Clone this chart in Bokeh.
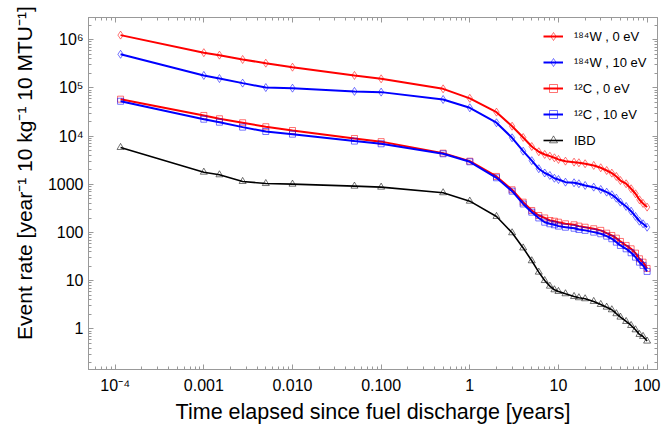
from bokeh.plotting import figure
from bokeh.models import (LogAxis, FixedTicker, CustomJSTickFormatter, Legend,
                          LegendItem, Range1d)
from bokeh.embed import file_html
from bokeh.resources import INLINE

# ---------------- data ----------------
t_years = [1.15e-4, 1e-3, 1.5e-3, 2.74e-3, 5e-3, 0.01, 0.05, 0.1, 0.5, 1, 2, 3, 4, 5, 6, 7,
           8, 9, 10, 12, 15, 17, 20, 25, 30, 35, 40, 45, 50, 58, 66, 74, 82, 90, 100]

w184_0eV = [1.25e6, 5.4e5, 4.8e5, 3.9e5, 3.27e5, 2.7e5, 1.82e5, 1.55e5, 9.6e4, 6.1e4,
            3.15e4, 1.61e4, 9.4e3, 6.1e3, 4.75e3, 4.17e3, 3.85e3, 3.56e3, 3.29e3, 3.03e3,
            2.89e3, 2.81e3, 2.68e3, 2.47e3, 2.21e3, 1.94e3, 1.71e3, 1.46e3, 1.2e3, 1.03e3,
            811, 638, 479, 402, 337]

w184_10eV = [5.0e5, 1.82e5, 1.57e5, 1.26e5, 1.02e5, 9.9e4, 8.5e4, 8.2e4, 5.77e4, 3.88e4,
             1.9e4, 9.26e3, 4.88e3, 3.1e3, 2.11e3, 1.72e3, 1.53e3, 1.34e3, 1.26e3, 1.11e3,
             1.08e3, 1.03e3, 949, 875, 783, 689, 608, 517, 427, 348, 278, 216, 172, 152, 129]

c12_0eV = [5.86e4, 2.69e4, 2.3e4, 1.9e4, 1.57e4, 1.31e4, 8.95e3, 7.7e3, 4.44e3, 3.03e3,
           1.46e3, 772, 427, 287, 226, 201, 178, 172, 164, 152, 145, 136, 129, 120, 111,
           97, 87, 76.5, 65.4, 54, 46, 37.4, 28.6, 24.3, 18]

c12_10eV = [5.3e4, 2.25e4, 1.95e4, 1.54e4, 1.25e4, 1.1e4, 7.9e3, 6.95e3, 4.31e3, 2.94e3,
            1.37e3, 722, 392, 265, 201, 164, 152, 145, 136, 129, 123, 116, 111, 102, 94.4,
            84.2, 74.4, 63.2, 54, 46, 38.1, 30.9, 24.3, 20.8, 15.6]

ibd = [5.83e3, 1.79e3, 1.58e3, 1.15e3, 1.04e3, 1.01e3, 918, 875, 670, 448, 216, 99, 48,
       26, 15.1, 10.1, 7.73, 6.5, 6.0, 5.37, 4.72, 4.44, 4.23, 3.72, 3.22, 2.83, 2.5, 2.07,
       1.76, 1.43, 1.18, 0.96, 0.77, 0.70, 0.56]

x_tick_values = [1e-4, 1e-3, 1e-2, 1e-1, 1, 10, 100]
x_tick_labels = ["10⁻⁴", "0.001", "0.010", "0.100", "1", "10", "100"]
y_tick_values = [1, 10, 100, 1000, 1e4, 1e5, 1e6]
y_tick_labels = ["1", "10", "100", "1000", "10⁴", "10⁵", "10⁶"]

series_labels = ["¹⁸⁴W , 0 eV", "¹⁸⁴W , 10 eV", "¹²C , 0 eV", "¹²C , 10 eV", "IBD"]

# ---------------- figure ----------------
FONT = "Liberation Sans"
GRAY = "#999999"

p = figure(width=662, height=426, x_axis_type="log", y_axis_type="log",
           x_range=Range1d(5e-5, 131), y_range=Range1d(0.144, 2.9e6),
           output_backend="svg", toolbar_location=None,
           min_border_left=88, min_border_right=5, min_border_top=17, min_border_bottom=57)
p.grid.visible = False
p.outline_line_color = GRAY
p.background_fill_color = "white"
p.border_fill_color = "white"

x_minor = [k * 10.0 ** e for e in range(-5, 3) for k in range(2, 10)]
y_minor = [k * 10.0 ** e for e in range(-1, 7) for k in range(2, 10)]


def style(ax, ticks, minor, labels, show):
    ax.ticker = FixedTicker(ticks=ticks, minor_ticks=minor)
    ax.axis_line_color = GRAY
    ax.major_tick_line_color = GRAY
    ax.minor_tick_line_color = GRAY
    ax.major_tick_in = 5
    ax.major_tick_out = 0
    ax.minor_tick_in = 3
    ax.minor_tick_out = 0
    if show:
        ax.formatter = CustomJSTickFormatter(
            args=dict(vals=ticks, labels=labels),
            code="""
            let best = 0, bd = 1e9;
            for (let i = 0; i < vals.length; i++) {
              const d = Math.abs(Math.log10(vals[i]) - Math.log10(tick));
              if (d < bd) { bd = d; best = i; }
            }
            return labels[best];
            """)
        ax.major_label_text_font = FONT
        ax.major_label_text_font_size = "16px"
        ax.major_label_text_color = "black"
        ax.axis_label_text_font = FONT
        ax.axis_label_text_font_style = "normal"
        ax.axis_label_text_font_size = "21.5px"
        ax.axis_label_text_color = "black"
    else:
        ax.major_label_text_font_size = "0px"
        ax.major_label_standoff = 0
        ax.formatter = CustomJSTickFormatter(code="return '';")


xa = p.xaxis[0]
style(xa, x_tick_values, x_minor, x_tick_labels, True)
xa.axis_label = "Time elapsed since fuel discharge [years]"
xa.major_label_standoff = 7
xa.axis_label_standoff = 3

ya = p.yaxis[0]
style(ya, y_tick_values, y_minor, y_tick_labels, True)
ya.axis_label = "\u00a0" * 7 + "Event rate [year⁻¹ 10 kg⁻¹ 10 MTU⁻¹]"
ya.axis_label_text_font_size = "21px"
ya.major_label_standoff = 5
ya.axis_label_standoff = 9

top = LogAxis()
style(top, x_tick_values, x_minor, x_tick_labels, False)
p.add_layout(top, "above")
right = LogAxis()
style(right, y_tick_values, y_minor, y_tick_labels, False)
p.add_layout(right, "right")

# ---------------- series ----------------
specs = [
    (w184_0eV, "#ff0000", "diamond", 8, 2),
    (w184_10eV, "#0000ff", "diamond", 8, 2),
    (c12_0eV, "#ff0000", "square", 6, 2),
    (c12_10eV, "#0000ff", "square", 6, 2),
    (ibd, "#000000", "triangle", 7, 1.6),
]

items = []
for (vals, color, marker, size, lw), lab in zip(specs, series_labels):
    lr = p.line(t_years, vals, line_color=color, line_width=lw)
    sr = p.scatter(t_years, vals, marker=marker, size=size, line_color=color,
                   line_alpha=0.55, fill_color=None, line_width=1)
    items.append(LegendItem(label=lab, renderers=[lr, sr]))

legend = Legend(items=items, location=(455, 219))
legend.label_text_font = FONT
legend.label_text_font_size = "13px"
legend.label_text_color = "black"
legend.glyph_width = 20
legend.glyph_height = 20
legend.label_height = 20
legend.spacing = 6
legend.padding = 5
legend.margin = 0
legend.label_standoff = 11
legend.border_line_color = None
legend.background_fill_alpha = 0
p.add_layout(legend)

open("out.html", "w").write(file_html(p, INLINE))
